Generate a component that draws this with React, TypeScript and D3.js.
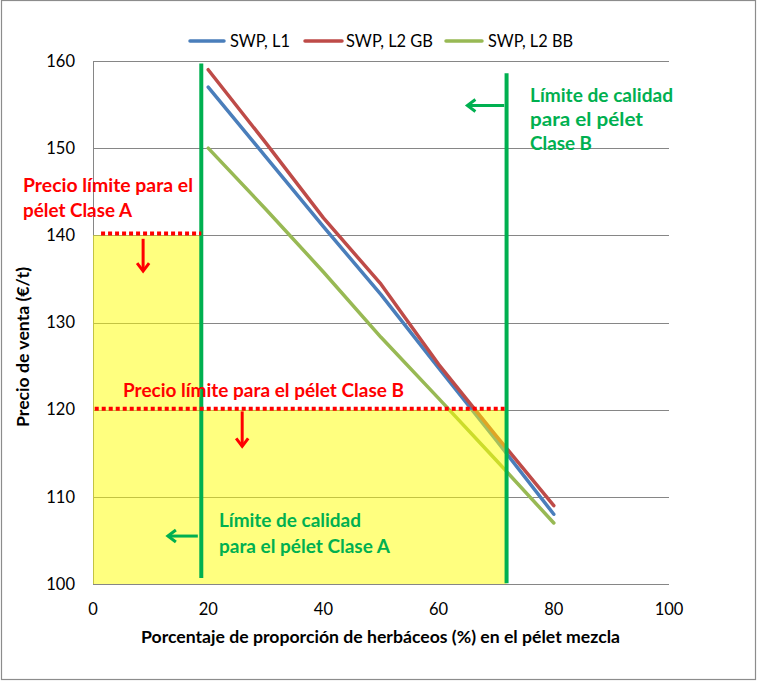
import React from "react";
import * as d3 from "d3";

const xValues = [20, 30, 40, 50, 60, 70, 80];
const seriesNames = ["SWP, L1", "SWP, L2 GB", "SWP, L2 BB"];
const seriesL1 = [157, 149, 141, 133.2, 124.8, 116.5, 108];
const seriesL2GB = [159, 150.6, 142, 134.4, 125.2, 117, 109];
const seriesL2BB = [150, 143, 135.8, 128.3, 121.3, 114.2, 107];
const seriesColors = ["#4A7EBB", "#BE4B48", "#98B954"];
const xTicks = [0, 20, 40, 60, 80, 100];
const yTicks = [100, 110, 120, 130, 140, 150, 160];

// annotation values (data units)
const limitA = 18.8; // quality limit class A (%)
const limitB = 71.8; // quality limit class B (%)
const priceA = 140.2;
const priceB = 120.1;

const W = 757;
const H = 681;
const FONT = "Lato, 'DejaVu Sans', sans-serif";

export default function App() {
  const x = d3.scaleLinear().domain([0, 100]).range([93, 669]);
  const y = d3.scaleLinear().domain([100, 160]).range([584, 61]);
  const line = d3
    .line<[number, number]>()
    .x((d) => x(d[0]))
    .y((d) => y(d[1]));
  const allSeries = [seriesL1, seriesL2GB, seriesL2BB];

  const yellowPoly: [number, number][] = [
    [0, 140],
    [limitA, 140],
    [limitA, 120],
    [limitB, 120],
    [limitB, 100],
    [0, 100],
  ];
  const polyPath =
    "M" + yellowPoly.map((p) => `${x(p[0])},${y(p[1])}`).join("L") + "Z";

  const green = "#00B050";
  const red = "#FF0000";

  const arrowDown = (xv: number, y0: number, y1: number, key: string) => {
    const px = x(xv);
    const a = y(y0);
    const b = y(y1);
    return (
      <g key={key} stroke={red} strokeWidth={3} fill="none">
        <line x1={px} y1={a} x2={px} y2={b} />
        <polyline points={`${px - 6},${b - 8} ${px},${b} ${px + 6},${b - 8}`} strokeLinejoin="miter" />
      </g>
    );
  };
  const arrowLeft = (yv: number, x0: number, x1: number, key: string) => {
    const py = y(yv);
    const a = x(x0);
    const b = x(x1);
    return (
      <g key={key} stroke={green} strokeWidth={3} fill="none">
        <line x1={a} y1={py} x2={b} y2={py} />
        <polyline points={`${b + 8},${py - 6} ${b},${py} ${b + 8},${py + 6}`} />
      </g>
    );
  };

  const legendItems = [
    { x0: 190, x1: 224, tx: 230, w: 60 },
    { x0: 305, x1: 342, tx: 346, w: 87 },
    { x0: 446, x1: 482, tx: 488, w: 85 },
  ];

  const T = (props: any) => (
    <text lengthAdjust="spacingAndGlyphs" {...props} />
  );

  return (
    <div style={{ position: "absolute", left: 0, top: 0 }}>
      <svg width={W} height={H} style={{ display: "block", fontFamily: FONT }}>
        <rect x={0} y={0} width={W} height={H} fill="#fff" />
        <rect x={1.5} y={0.5} width={W - 3} height={H - 2} fill="none" stroke="#8c8c8c" strokeWidth={1.2} />

        {/* gridlines */}
        {yTicks.map((t) => (
          <line key={t} x1={x(0)} x2={x(100)} y1={Math.round(y(t)) + 0.5} y2={Math.round(y(t)) + 0.5} stroke="#868686" strokeWidth={1} />
        ))}
        <line x1={x(0) + 0.5} x2={x(0) + 0.5} y1={y(160)} y2={y(100)} stroke="#868686" />

        {/* series */}
        {allSeries.map((s, i) => (
          <path
            key={i}
            d={line(xValues.map((v, j) => [v, s[j]]) as [number, number][]) || ""}
            fill="none"
            stroke={seriesColors[i]}
            strokeWidth={3.5}
            strokeLinecap="round"
            strokeLinejoin="round"
          />
        ))}

        {/* yellow zone */}
        <path d={polyPath} fill="#FFFF00" fillOpacity={0.5} />

        {/* green limits */}
        <line x1={x(limitA)} x2={x(limitA)} y1={y(159.7)} y2={y(100.7)} stroke={green} strokeWidth={4} />
        <line x1={x(limitB)} x2={x(limitB)} y1={y(158.6)} y2={y(100.1)} stroke={green} strokeWidth={4} />

        {/* red dotted price limits */}
        <line x1={x(1.4)} x2={x(limitA)} y1={y(priceA)} y2={y(priceA)} stroke={red} strokeWidth={4} strokeDasharray="4 3" />
        <line x1={x(0.3)} x2={x(limitB) - 2} y1={y(priceB)} y2={y(priceB)} stroke={red} strokeWidth={4} strokeDasharray="4 3" />

        {arrowDown(8.7, 139.6, 135.9, "ra")}
        {arrowDown(25.9, 119.8, 115.8, "rb")}
        {arrowLeft(154.9, 71.4, 65.0, "ga")}
        {arrowLeft(105.5, 18.2, 13.0, "gb")}

        {/* annotation texts */}
        <g fill={red} fontWeight="bold" fontSize={18}>
          <T x={23} y={192} textLength={170}>Precio límite para el</T>
          <T x={23} y={217} textLength={109}>pélet Clase A</T>
          <T x={123} y={397} textLength={281}>Precio límite para el pélet Clase B</T>
        </g>
        <g fill={green} fontWeight="bold" fontSize={18}>
          <T x={530} y={102} textLength={143}>Límite de calidad</T>
          <T x={530} y={126} textLength={113}>para el pélet</T>
          <T x={530} y={150} textLength={62}>Clase B</T>
          <T x={219} y={527} textLength={142}>Límite de calidad</T>
          <T x={219} y={553} textLength={171}>para el pélet Clase A</T>
        </g>

        {/* axes labels */}
        <g fontSize={16.5} fill="#000">
          {yTicks.map((t) => (
            <text key={t} x={75} y={y(t)} dy="0.35em" textAnchor="end">
              {t}
            </text>
          ))}
          {xTicks.map((t) => (
            <text key={t} x={x(t)} y={609} dy="0.35em" textAnchor="middle">
              {t}
            </text>
          ))}
        </g>
        <T x={141} y={643} textLength={479} fontWeight="bold" fontSize={17.5}>
          Porcentaje de proporción de herbáceos (%) en el pélet mezcla
        </T>
        <T transform={`translate(29,427) rotate(-90)`} x={0} y={0} textLength={160} fontWeight="bold" fontSize={17.5}>
          Precio de venta (€/t)
        </T>

        {/* legend */}
        {legendItems.map((l, i) => (
          <g key={i}>
            <line x1={l.x0} x2={l.x1} y1={41} y2={41} stroke={seriesColors[i]} strokeWidth={3.5} strokeLinecap="round" />
            <T x={l.tx} y={41} dy="0.36em" fontSize={16.5} textLength={l.w}>
              {seriesNames[i]}
            </T>
          </g>
        ))}
      </svg>
    </div>
  );
}
